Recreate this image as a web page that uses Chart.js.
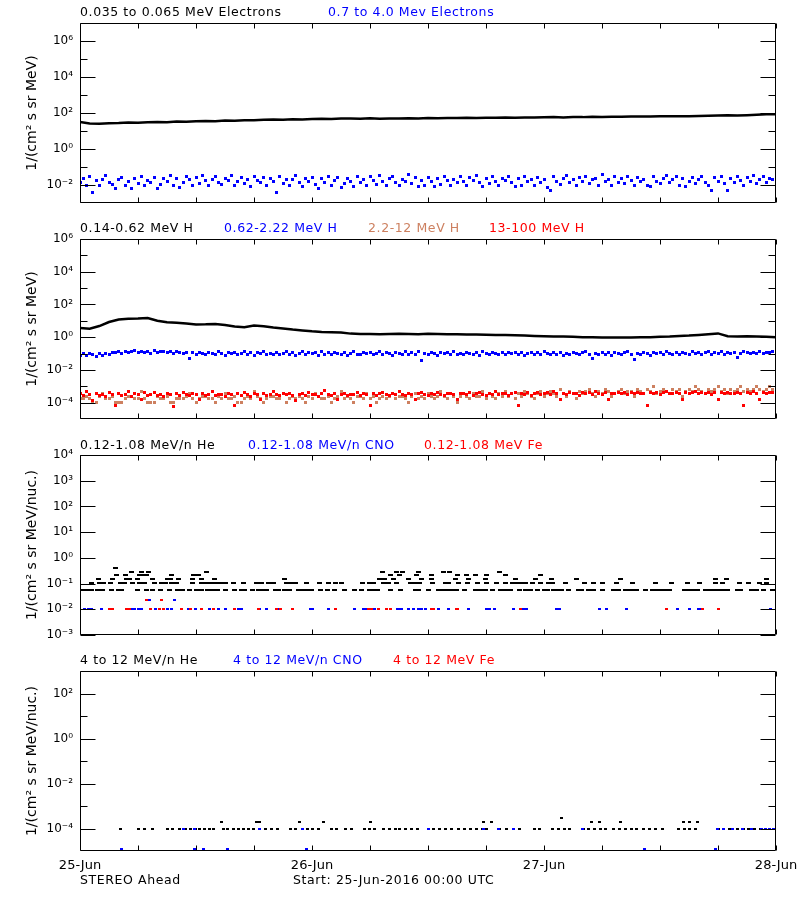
<!DOCTYPE html>
<html>
<head>
<meta charset="utf-8">
<script src="https://cdn.jsdelivr.net/npm/chart.js@4.4.0/dist/chart.umd.min.js"></script>
<style>
body { margin: 0; background: #fff; }
#wrap { position: relative; width: 800px; height: 900px; }
#wrap canvas { position: absolute; left: 0; top: 0; }
</style>
</head>
<body>
<div id="wrap">
<canvas id="panel1" width="800" height="900"></canvas>
<canvas id="panel2" width="800" height="900"></canvas>
<canvas id="panel3" width="800" height="900"></canvas>
<canvas id="panel4" width="800" height="900"></canvas>
</div>
<script>
//Time axis: hours after 25-Jun-2016 00:00 UTC
var dayLabels = ["25-Jun", "26-Jun", "27-Jun", "28-Jun"];
var hourly = [];
for (var i = 0; i <= 72; i++) { hourly.push(i); }
var every20min = [];
for (var i = 0; i <= 216; i++) { every20min.push(i / 3); }

//Panel 1: electrons (hourly / 20 min)
var elecLow = [32,26,25,27,28,30,29,31,32,31,34,33,35,36,35,38,37,39,40,42,43,42,45,44,47,48,46,49,50,48,
    51,48,50,49,51,50,52,51,53,52,54,53,55,54,56,55,57,56,58,59,57,60,59,61,60,62,61,63,64,63,
    65,66,65,67,69,70,72,74,73,76,80,84,86];
var elecHigh = [.013,.024,.010,.030,.004,.017,.009,.021,.032,.014,.011,.006,
    .019,.027,.009,.015,.006,.023,.012,.031,.010,.018,.014,.026,
    .006,.011,.022,.016,.033,.009,.024,.007,.013,.028,.019,.010,
    .025,.012,.035,.017,.009,.021,.029,.014,.011,.023,.018,.032,
    .010,.016,.027,.012,.020,.008,.031,.018,.013,.026,.010,.022,
    .015,.004,.029,.012,.021,.009,.019,.034,.014,.008,.024,.016,
    .027,.011,.006,.022,.013,.030,.009,.018,.025,.007,.012,.023,
    .016,.008,.031,.013,.021,.009,.028,.018,.011,.033,.015,.010,
    .024,.029,.013,.009,.021,.016,.036,.012,.026,.008,.018,.010,
    .027,.015,.008,.023,.011,.030,.018,.009,.021,.014,.029,.016,
    .010,.026,.018,.032,.013,.008,.022,.012,.028,.016,.009,.024,
    .018,.029,.013,.008,.024,.010,.031,.016,.021,.009,.027,.014,
    .019,.007,.005,.028,.015,.011,.024,.032,.013,.021,.009,.026,
    .016,.030,.012,.019,.024,.010,.037,.016,.021,.009,.028,.014,
    .024,.012,.031,.018,.010,.026,.015,.021,.009,.008,.028,.016,
    .012,.024,.033,.014,.019,.029,.010,.022,.008,.016,.027,.012,
    .021,.031,.014,.009,.005,.025,.016,.028,.012,.005,.022,.014,
    .030,.018,.010,.026,.016,.033,.012,.021,.028,.014,.024,.019,.016];

//Panel 2: protons
var protLow = [3.7,3.3,4.8,8.5,12,13.5,14,15,10,8.2,7.6,6.8,6.0,6.1,6.4,5.6,4.5,4.1,5.1,4.7,
    3.9,3.4,2.9,2.6,2.3,2.1,2.0,1.9,1.65,1.55,1.55,1.5,1.55,1.6,1.55,1.5,1.6,1.55,1.5,1.5,
    1.45,1.45,1.4,1.35,1.35,1.3,1.25,1.2,1.15,1.1,1.1,1.05,1.0,1.0,0.97,0.95,0.97,0.95,0.98,1.0,
    1.05,1.1,1.2,1.25,1.35,1.5,1.7,1.15,1.1,1.15,1.1,1.05,1.0];
var protMid = [.078,.094,.072,.101,.083,.070,.097,.080,.104,.086,.112,.123,
    .131,.106,.142,.118,.128,.150,.110,.138,.121,.134,.104,.145,
    .119,.132,.140,.111,.127,.102,.136,.115,.098,.120,.048,.108,
    .092,.124,.101,.084,.119,.096,.088,.126,.105,.081,.115,.094,
    .121,.087,.103,.128,.090,.110,.079,.117,.097,.133,.089,.107,
    .093,.122,.083,.104,.127,.088,.112,.077,.100,.125,.086,.108,
    .095,.118,.080,.131,.091,.109,.084,.123,.099,.087,.116,.078,
    .103,.129,.092,.082,.114,.097,.124,.085,.106,.135,.089,.110,
    .094,.081,.120,.101,.090,.126,.083,.111,.093,.130,.038,.104,
    .088,.119,.098,.079,.122,.095,.113,.086,.128,.092,.105,.083,
    .121,.097,.087,.112,.080,.127,.094,.085,.116,.101,.089,.124,
    .082,.108,.096,.123,.088,.114,.078,.099,.119,.090,.110,.084,
    .126,.095,.086,.113,.092,.122,.080,.104,.091,.117,.097,.085,
    .109,.125,.088,.050,.101,.083,.120,.093,.112,.079,.124,.096,
    .087,.110,.129,.091,.045,.106,.084,.118,.098,.081,.121,.094,
    .111,.086,.126,.099,.082,.115,.093,.123,.103,.085,.131,.097,
    .117,.089,.108,.125,.091,.114,.098,.128,.087,.119,.096,.110,
    .055,.104,.127,.113,.095,.122,.106,.133,.099,.118,.109,.126,.112];
var protHigh = [1.7e-4,1.7e-4,2.4e-4,1.7e-4,9.6e-5,9.6e-5,2.4e-4,3.4e-4,1.7e-4,1.7e-4,2.4e-4,9.6e-5,
    9.6e-5,9.6e-5,1.7e-4,2.4e-4,2.4e-4,1.7e-4,1.7e-4,4.8e-4,1.7e-4,9.6e-5,9.6e-5,9.6e-5,
    2.4e-4,1.7e-4,1.7e-4,2.4e-4,9.6e-5,9.6e-5,1.7e-4,1.7e-4,1.7e-4,2.4e-4,3.4e-4,1.7e-4,
    9.6e-5,1.7e-4,2.4e-4,2.4e-4,1.7e-4,1.7e-4,9.6e-5,2.4e-4,1.7e-4,3.4e-4,1.7e-4,1.7e-4,
    2.4e-4,9.6e-5,9.6e-5,1.7e-4,2.4e-4,1.7e-4,4.8e-4,2.4e-4,1.7e-4,9.6e-5,1.7e-4,2.4e-4,
    2.4e-4,1.7e-4,1.7e-4,3.4e-4,9.6e-5,1.7e-4,2.4e-4,1.7e-4,2.4e-4,1.7e-4,9.6e-5,2.4e-4,
    1.7e-4,3.4e-4,2.4e-4,1.7e-4,1.7e-4,2.4e-4,9.6e-5,1.7e-4,2.4e-4,4.8e-4,1.7e-4,2.4e-4,
    1.7e-4,9.6e-5,2.4e-4,2.4e-4,1.7e-4,3.4e-4,1.7e-4,2.4e-4,9.6e-5,1.7e-4,2.4e-4,1.7e-4,
    2.4e-4,3.4e-4,1.7e-4,2.4e-4,2.4e-4,1.7e-4,9.6e-5,2.4e-4,3.4e-4,1.7e-4,2.4e-4,1.7e-4,
    3.4e-4,2.4e-4,1.7e-4,2.4e-4,4.8e-4,2.4e-4,1.7e-4,3.4e-4,2.4e-4,9.6e-5,2.4e-4,3.4e-4,
    2.4e-4,1.7e-4,3.4e-4,2.4e-4,2.4e-4,4.8e-4,1.7e-4,3.4e-4,2.4e-4,1.7e-4,3.4e-4,2.4e-4,
    4.8e-4,2.4e-4,3.4e-4,1.7e-4,3.4e-4,2.4e-4,4.8e-4,3.4e-4,2.4e-4,1.7e-4,3.4e-4,4.8e-4,
    2.4e-4,3.4e-4,4.8e-4,3.4e-4,2.4e-4,6.8e-4,3.4e-4,2.4e-4,4.8e-4,3.4e-4,1.7e-4,4.8e-4,
    3.4e-4,4.8e-4,6.8e-4,3.4e-4,2.4e-4,4.8e-4,3.4e-4,6.8e-4,4.8e-4,2.4e-4,3.4e-4,4.8e-4,
    6.8e-4,3.4e-4,4.8e-4,4.8e-4,2.4e-4,6.8e-4,4.8e-4,3.4e-4,6.8e-4,4.8e-4,9.5e-4,3.4e-4,
    4.8e-4,6.8e-4,4.8e-4,3.4e-4,6.8e-4,4.8e-4,6.8e-4,2.4e-4,4.8e-4,6.8e-4,4.8e-4,9.5e-4,
    6.8e-4,4.8e-4,3.4e-4,6.8e-4,4.8e-4,6.8e-4,9.5e-4,4.8e-4,6.8e-4,3.4e-4,6.8e-4,4.8e-4,
    6.8e-4,9.5e-4,4.8e-4,6.8e-4,4.8e-4,6.8e-4,9.5e-4,6.8e-4,4.8e-4,6.8e-4,9.5e-4,6.8e-4,4.8e-4];
var protTop = [3.4e-4,2.6e-4,4.6e-4,3.1e-4,1.4e-4,3.8e-4,2.9e-4,3.3e-4,2.4e-4,4.1e-4,3.0e-4,7e-5,
    3.6e-4,2.8e-4,3.2e-4,5.0e-4,2.5e-4,3.5e-4,3.0e-4,1.5e-4,3.9e-4,2.7e-4,3.3e-4,4.4e-4,
    2.9e-4,3.1e-4,2.3e-4,3.7e-4,3.2e-4,6e-5,3.4e-4,2.8e-4,4.2e-4,3.0e-4,2.6e-4,3.5e-4,
    3.1e-4,1.6e-4,3.8e-4,2.9e-4,3.3e-4,4.7e-4,2.7e-4,3.2e-4,3.0e-4,2.4e-4,3.6e-4,3.1e-4,
    7e-5,3.4e-4,2.8e-4,4.0e-4,3.1e-4,2.5e-4,3.5e-4,3.2e-4,1.5e-4,3.7e-4,2.9e-4,3.3e-4,
    4.5e-4,3.0e-4,2.6e-4,3.4e-4,3.1e-4,3.8e-4,2.8e-4,1.4e-4,3.2e-4,3.5e-4,2.7e-4,4.1e-4,
    3.0e-4,3.3e-4,2.5e-4,3.6e-4,5.2e-4,3.1e-4,2.9e-4,3.4e-4,1.6e-4,3.2e-4,3.8e-4,2.7e-4,
    3.3e-4,3.0e-4,4.3e-4,2.8e-4,3.5e-4,3.1e-4,7e-5,3.6e-4,2.9e-4,3.4e-4,4.0e-4,3.2e-4,
    2.6e-4,3.5e-4,3.1e-4,4.6e-4,3.3e-4,2.8e-4,3.7e-4,3.0e-4,1.5e-4,3.4e-4,3.9e-4,3.2e-4,
    2.9e-4,3.6e-4,3.3e-4,4.2e-4,3.0e-4,2.7e-4,3.5e-4,3.8e-4,3.1e-4,1.6e-4,3.4e-4,3.7e-4,
    3.2e-4,4.4e-4,2.9e-4,3.5e-4,3.9e-4,3.1e-4,2.6e-4,3.6e-4,3.3e-4,4.8e-4,3.0e-4,3.5e-4,
    3.8e-4,2.8e-4,3.4e-4,4.1e-4,7e-5,3.6e-4,3.2e-4,3.9e-4,2.9e-4,3.7e-4,4.3e-4,3.3e-4,
    3.5e-4,3.9e-4,3.0e-4,4.5e-4,3.6e-4,1.5e-4,3.8e-4,3.3e-4,4.0e-4,3.4e-4,3.7e-4,2.9e-4,
    4.2e-4,3.5e-4,3.9e-4,3.2e-4,4.6e-4,3.6e-4,3.3e-4,4.0e-4,1.6e-4,3.8e-4,3.5e-4,4.3e-4,
    3.4e-4,3.9e-4,3.1e-4,4.1e-4,3.7e-4,4.4e-4,3.5e-4,3.8e-4,7e-5,4.0e-4,3.6e-4,4.2e-4,
    3.3e-4,3.9e-4,4.5e-4,3.7e-4,3.4e-4,4.1e-4,3.8e-4,1.5e-4,4.3e-4,3.6e-4,3.9e-4,4.7e-4,
    3.5e-4,4.0e-4,3.7e-4,4.2e-4,3.3e-4,3.9e-4,1.6e-4,4.4e-4,3.6e-4,4.1e-4,3.8e-4,3.5e-4,
    4.3e-4,3.7e-4,7e-5,4.0e-4,3.6e-4,4.5e-4,3.8e-4,1.5e-4,4.1e-4,3.7e-4,4.2e-4,3.9e-4,3.6e-4];

//Panel 3: 0.12-1.08 MeV/n ions, counts are quantised -> hours listed per flux level
var heLoLevels = [0.054, 0.107, 0.15, 0.21, 0.27, 0.42];
var heLoHours = [
    [0.2,0.7,1.2,1.8,2.3,3.25,4.0,4.3,5.9,6.9,7.5,8.35,9.25,10.05,10.65,11.3,12.1,12.6,13.2,13.7,14.2,15.0,
     15.95,16.7,17.0,17.85,18.5,18.8,19.3,20.2,20.5,21.2,21.7,22.6,23.1,23.6,23.9,24.85,25.6,26.3,27.35,
     28.35,29.15,29.95,30.5,30.8,32.15,33.15,34.7,35.0,36.05,37.1,37.6,38.1,38.6,38.9,39.75,40.9,41.4,41.9,
     42.65,43.5,44.0,44.5,45.45,46.1,46.6,47.3,48.1,48.4,49.0,49.5,49.8,50.5,51.6,51.9,52.6,53.1,54.05,55.2,
     55.7,56.4,56.7,57.3,57.6,58.45,59.2,59.6,60.15,60.7,61.0,62.5,63.1,63.6,63.9,64.7,65.2,65.7,66.2,66.7,
     67.0,68.0,68.3,69.5,70.0,70.75,71.65],
    [1.15,2.0,2.45,3.15,4.2,4.6,5.45,6.2,6.7,7.75,8.4,8.8,9.5,10.0,11.65,12.6,13.1,13.5,14.0,14.5,15.0,15.85,
     16.9,18.3,18.8,19.5,20.0,21.4,21.9,22.3,23.45,24.75,25.75,26.4,27.05,29.2,29.9,30.4,31.4,31.9,32.75,
     34.15,34.7,35.1,36.5,37.8,38.1,39.15,40.05,41.15,42.05,43.05,44.05,44.7,45.2,45.7,46.1,46.85,47.6,48.5,
     48.9,50.2,52.15,53.1,54.0,55.5,57.15,59.5,61.2,62.85,64.05,65.7,66.45,68.2,69.15,70.3,71.0],
    [1.9,3.4,4.8,5.1,5.9,7.5,9.1,9.4,10.2,11.6,12.6,13.9,21.2,31.0,31.5,32.4,34.0,35.3,36.4,38.8,40.2,41.9,
     45.1,47.1,48.8,51.4,55.9,65.7,66.9,71.0],
    [3.8,4.7,6.2,6.5,6.9,9.5,11.7,12.3,32.1,33.1,34.8,36.4,39.0,40.0,40.9,42.1,44.0,47.6],
    [5.3,6.4,7.1,13.1,31.3,32.7,33.4,35.0,37.6,38.2,43.4],
    [3.7]
];
var cnoLoLevels = [0.0105, 0.024];
var cnoLoHours = [
    [0.5,0.9,1.2,2.2,5.2,5.4,5.6,6.0,6.4,7.3,7.8,9.0,9.5,11.2,11.9,13.4,14.3,15.0,16.4,16.7,18.6,19.3,20.5,
     23.8,24.1,25.7,28.4,29.3,29.5,29.7,30.3,30.5,32.8,33.1,33.3,34.0,34.5,35.0,35.3,35.7,36.6,37.1,38.1,
     40.2,42.1,42.4,42.9,44.8,45.9,46.2,49.3,49.6,53.7,54.5,56.5,61.8,63.0,64.0,64.1,71.4],
    [7.2,9.8]
];
var feLoLevels = [0.0105, 0.024];
var feLoHours = [
    [3.1,3.4,4.8,5.1,7.3,8.2,8.6,10.5,11.4,12.6,13.8,16.0,18.5,20.3,20.7,22.0,26.4,29.8,30.2,30.9,31.7,32.1,
     36.4,36.6,38.9,39.0,45.6,60.7,64.4,66.0],
    [6.9,8.4]
];

//Panel 4: 4 to 12 MeV/n ions
var heHiLevels = [1e-4, 1.9e-4, 2.9e-4];
var heHiHours = [
    [4.2,6.0,6.7,7.5,9.1,9.6,10.3,10.9,11.4,11.9,12.4,12.9,13.4,13.8,14.8,15.3,15.9,16.4,16.9,17.4,17.9,
     18.6,19.2,19.8,20.4,21.8,22.3,23.5,24.1,24.7,26.0,26.5,27.5,28.1,29.4,29.9,30.5,31.4,32.0,32.6,33.1,
     33.7,34.3,34.9,36.0,36.6,37.2,37.8,38.4,39.2,39.8,40.4,41.0,41.6,42.1,43.4,44.1,44.8,45.5,47.0,47.5,
     48.9,49.5,50.1,50.6,52.1,52.6,53.2,53.8,54.4,55.2,55.8,56.4,57.0,57.6,58.3,58.9,59.5,60.3,61.9,62.5,
     63.1,63.7,66.0,66.6,67.2,68.0,68.6,69.2,69.8,70.4],
    [14.6,18.3,18.6,22.7,25.2,30.0,41.7,42.6,52.9,53.7,55.9,62.4,63.1,63.9],
    [49.8]
];
var cnoHiLevels = [1e-4, 1.26e-5];
var cnoHiHours = [
    [10.7,11.8,18.6,23.0,36.0,41.7,43.3,44.8,52.0,65.9,66.6,67.5,68.5,69.5,70.5,70.9,71.3,71.7],
    [4.3,11.8,12.8,15.3,23.4,58.4,65.7]
];
var feHiLevels = [];
var feHiHours = [];

var FONT = '"DejaVu Sans", sans-serif';
var BLUE = "#0000ff", RED = "#ff0000", PERU = "#cd8060";

var supDigits = {"0":"\u2070","1":"\u00b9","2":"\u00b2","3":"\u00b3","4":"\u2074","5":"\u2075",
    "6":"\u2076","7":"\u2077","8":"\u2078","9":"\u2079","-":"\u207b"};
function powLabel(value) {
    var s = String(Math.round(Math.log10(value)));
    var out = "10";
    for (var k = 0; k < s.length; k++) { out += supDigits[s[k]]; }
    return out;
}

function dot(color, w, h) {
    var c = document.createElement("canvas");
    c.width = w; c.height = h;
    var g = c.getContext("2d");
    g.fillStyle = color;
    g.fillRect(0, 0, w, h);
    return c;
}

function series(xs, ys) {
    var out = [];
    for (var k = 0; k < ys.length; k++) { out.push({x: xs[k], y: ys[k]}); }
    return out;
}

function levelSeries(levels, hours) {
    var out = [];
    for (var k = 0; k < levels.length; k++) {
        for (var j = 0; j < hours[k].length; j++) { out.push({x: hours[k][j], y: levels[k]}); }
    }
    return out;
}

function lineSet(data) {
    return {data: data, showLine: true, borderColor: "#000", borderWidth: 2.5, pointRadius: 0, tension: 0};
}
function dotSet(data, img) {
    return {data: data, showLine: false, pointStyle: img, pointRadius: 2, pointHoverRadius: 2};
}

//frame, inward ticks and the text round each panel
var panelPlugin = {
    id: "panel",
    beforeDatasetsDraw: function (chart) { chart.ctx.imageSmoothingEnabled = false; },
    afterDraw: function (chart, args, opts) {
        var ctx = chart.ctx, a = chart.chartArea;
        var xs = chart.scales.x, ys = chart.scales.y;
        var L = Math.round(a.left) + 0.5, R = Math.round(a.right) - 0.5;
        var T = Math.round(a.top) + 0.5, B = Math.round(a.bottom) - 0.5;
        ctx.save();
        ctx.strokeStyle = "#000";
        ctx.lineWidth = 1;
        ctx.beginPath();
        ctx.rect(L, T, R - L, B - T);
        xs.ticks.forEach(function (t) {
            var px = Math.round(xs.getPixelForValue(t.value)) + 0.5;
            ctx.moveTo(px, T); ctx.lineTo(px, T + 5);
            ctx.moveTo(px, B); ctx.lineTo(px, B - 5);
        });
        function yTick(v, len) {
            var py = Math.round(ys.getPixelForValue(v)) + 0.5;
            ctx.moveTo(L, py); ctx.lineTo(L + len, py);
            ctx.moveTo(R, py); ctx.lineTo(R - len, py);
        }
        opts.major.forEach(function (v) { yTick(v, 15); });
        opts.minor.forEach(function (v) { yTick(v, 7); });
        ctx.stroke();

        ctx.font = "12.5px " + FONT;
        ctx.letterSpacing = "0.6px";
        ctx.textBaseline = "middle";
        ctx.textAlign = "left";
        opts.legend.forEach(function (item) {
            ctx.fillStyle = item.color;
            ctx.fillText(item.text, item.x, opts.legendY);
        });
        (opts.footer || []).forEach(function (item) {
            ctx.fillStyle = "#000";
            ctx.fillText(item.text, item.x, item.y);
        });
        ctx.restore();
    }
};

function makePanel(id, p) {
    new Chart(document.getElementById(id), {
        type: "scatter",
        data: {datasets: p.datasets},
        options: {
            responsive: false,
            animation: false,
            devicePixelRatio: 1,
            events: [],
            layout: {padding: {top: p.top, right: 24, left: 0, bottom: 0}},
            plugins: {
                legend: {display: false},
                tooltip: {enabled: false},
                panel: {major: p.major, minor: p.minor, legend: p.legend, legendY: p.legendY, footer: p.footer}
            },
            scales: {
                x: {
                    type: "linear", min: 0, max: 72,
                    grid: {display: false, drawTicks: false}, border: {display: false},
                    ticks: {
                        stepSize: 6, autoSkip: false, maxRotation: 0, display: p.showDays === true,
                        padding: 7, color: "#000", font: {family: FONT, size: 13},
                        callback: function (v) { return v % 24 === 0 ? dayLabels[v / 24] : ""; }
                    },
                    afterFit: function (s) {
                        s.height = 900 - p.bottom;
                        s.paddingLeft = 0;
                        s.paddingRight = 0;
                    }
                },
                y: {
                    type: "logarithmic", min: p.ymin, max: p.ymax,
                    grid: {display: false, drawTicks: false}, border: {display: false},
                    afterBuildTicks: function (s) {
                        s.ticks = p.major.map(function (v) { return {value: v}; });
                    },
                    ticks: {autoSkip: false, padding: 7, color: "#000", font: {family: FONT, size: 12},
                        callback: function (v) { return powLabel(v); }},
                    title: {display: true, text: p.ytitle, color: "#000",
                        font: {family: FONT, size: 14}, padding: {top: 24, bottom: 0}},
                    afterFit: function (s) { s.width = 80; }
                }
            }
        },
        plugins: [panelPlugin]
    });
}

//Panel 1
makePanel("panel1", {
    top: 23, bottom: 203, ymin: 1e-3, ymax: 1e7,
    major: [1e-2, 1, 1e2, 1e4, 1e6], minor: [1e-1, 1e1, 1e3, 1e5],
    ytitle: "1/(cm\u00b2 s sr MeV)", legendY: 13,
    legend: [{text: "0.035 to 0.065 MeV Electrons", color: "#000", x: 80},
             {text: "0.7 to 4.0 Mev Electrons", color: BLUE, x: 328}],
    datasets: [lineSet(series(hourly, elecLow)), dotSet(series(every20min, elecHigh), dot(BLUE, 3, 3))]
});

//Panel 2
makePanel("panel2", {
    top: 239, bottom: 419, ymin: 1e-5, ymax: 1e6,
    major: [1e-4, 1e-2, 1, 1e2, 1e4, 1e6], minor: [1e-3, 1e-1, 1e1, 1e3, 1e5],
    ytitle: "1/(cm\u00b2 s sr MeV)", legendY: 229,
    legend: [{text: "0.14-0.62 MeV H", color: "#000", x: 80},
             {text: "0.62-2.22 MeV H", color: BLUE, x: 224},
             {text: "2.2-12 MeV H", color: PERU, x: 368},
             {text: "13-100 MeV H", color: RED, x: 489}],
    datasets: [lineSet(series(hourly, protLow)),
               dotSet(series(every20min, protMid), dot(BLUE, 3, 3)),
               dotSet(series(every20min, protTop), dot(RED, 3, 3)),
               dotSet(series(every20min, protHigh), dot(PERU, 3, 3))]
});

//Panel 3
makePanel("panel3", {
    top: 455, bottom: 635, ymin: 1e-3, ymax: 1e4,
    major: [1e-3, 1e-2, 1e-1, 1, 1e1, 1e2, 1e3, 1e4], minor: [],
    ytitle: "1/(cm\u00b2 s sr MeV/nuc.)", legendY: 446,
    legend: [{text: "0.12-1.08 MeV/n He", color: "#000", x: 80},
             {text: "0.12-1.08 MeV/n CNO", color: BLUE, x: 248},
             {text: "0.12-1.08 MeV Fe", color: RED, x: 424}],
    datasets: [dotSet(levelSeries(feLoLevels, feLoHours), dot(RED, 3, 2)),
               dotSet(levelSeries(cnoLoLevels, cnoLoHours), dot(BLUE, 3, 2)),
               dotSet(levelSeries(heLoLevels, heLoHours), dot("#000", 5, 2))]
});

//Panel 4
makePanel("panel4", {
    top: 671, bottom: 851, ymin: 1e-5, ymax: 1e3, showDays: true,
    major: [1e-4, 1e-2, 1, 1e2], minor: [1e-3, 1e-1, 1e1],
    ytitle: "1/(cm\u00b2 s sr MeV/nuc.)", legendY: 661,
    legend: [{text: "4 to 12 MeV/n He", color: "#000", x: 80},
             {text: "4 to 12 MeV/n CNO", color: BLUE, x: 233},
             {text: "4 to 12 MeV Fe", color: RED, x: 393}],
    footer: [{text: "STEREO Ahead", x: 80, y: 881},
             {text: "Start: 25-Jun-2016 00:00 UTC", x: 293, y: 881}],
    datasets: [dotSet(levelSeries(feHiLevels, feHiHours), dot(RED, 3, 2)),
               dotSet(levelSeries(cnoHiLevels, cnoHiHours), dot(BLUE, 3, 2)),
               dotSet(levelSeries(heHiLevels, heHiHours), dot("#000", 3, 2))]
});
</script>
</body>
</html>
